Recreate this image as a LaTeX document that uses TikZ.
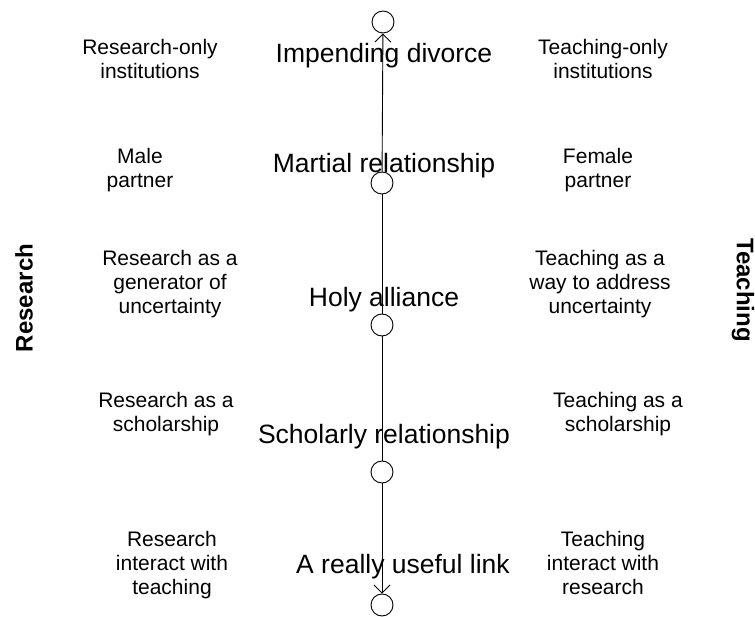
\documentclass[tikz,border=0pt]{standalone}
\usepackage{fontspec}
\setmainfont{Liberation Sans}
\usetikzlibrary{arrows.meta,positioning}
\tikzset{
knot/.style = {draw, fill=white, circle, minimum size=22pt, inner sep=0pt},
stage/.style = {anchor=base, inner sep=0pt, font=\fontsize{26.5}{30}\selectfont},
side/.style = {anchor=north, align=center, inner sep=0pt, font=\fontsize{21}{24}\selectfont},
axis/.style = {inner sep=0pt, font=\fontsize{24}{28}\selectfont\bfseries}
}
\begin{document}
\begin{tikzpicture}[x=1pt, y=-1pt, line width=0.9pt, >={Straight Barb[length=8pt,width=16pt]}]
        \useasboundingbox (0,0) rectangle (755,617);
        % the scale
        \node [knot] (c1) at (383,22) {};
        \node [knot] (c2) at (382,183) {};
        \node [knot] (c3) at (382,325) {};
        \node [knot] (c4) at (382,472) {};
        \node [knot] (c5) at (382,605) {};
        \draw [->] (c2) -- (c1);
        \draw (c2) -- (c3);
        \draw (c3) -- (c4);
        \draw [->] (c4) -- (c5);
        \node [stage] (divorce) at (384,63) {Impending divorce};
        \node [stage] (marriage) at (384,173) {Martial relationship};
        \node [stage] (alliance) at (384,307) {Holy alliance};
        \node [stage] (scholarly) at (384,443) {Scholarly relationship};
        \node [stage] (link) at (403,573) {A really useful link};
        % research side
        \node [side] (r1) at (150,39) {Research-only\\institutions};
        \node [side] (r2) at (140,148) {Male\\partner};
        \node [side] (r3) at (170,250) {Research as a\\generator of\\uncertainty};
        \node [side] (r4) at (166,392) {Research as a\\scholarship};
        \node [side] (r5) at (172,531) {Research\\interact with\\teaching};
        % teaching side
        \node [side] (t1) at (603,39) {Teaching-only\\institutions};
        \node [side] (t2) at (598,148) {Female\\partner};
        \node [side] (t3) at (600,250) {Teaching as a\\way to address\\uncertainty};
        \node [side] (t4) at (618,392) {Teaching as a\\scholarship};
        \node [side] (t5) at (603,531) {Teaching\\interact with\\research};
        \node [axis, rotate=90] (research) at (24,298) {Research};
        \node [axis, rotate=-90] (teaching) at (743,290) {Teaching};
\end{tikzpicture}
\end{document}
